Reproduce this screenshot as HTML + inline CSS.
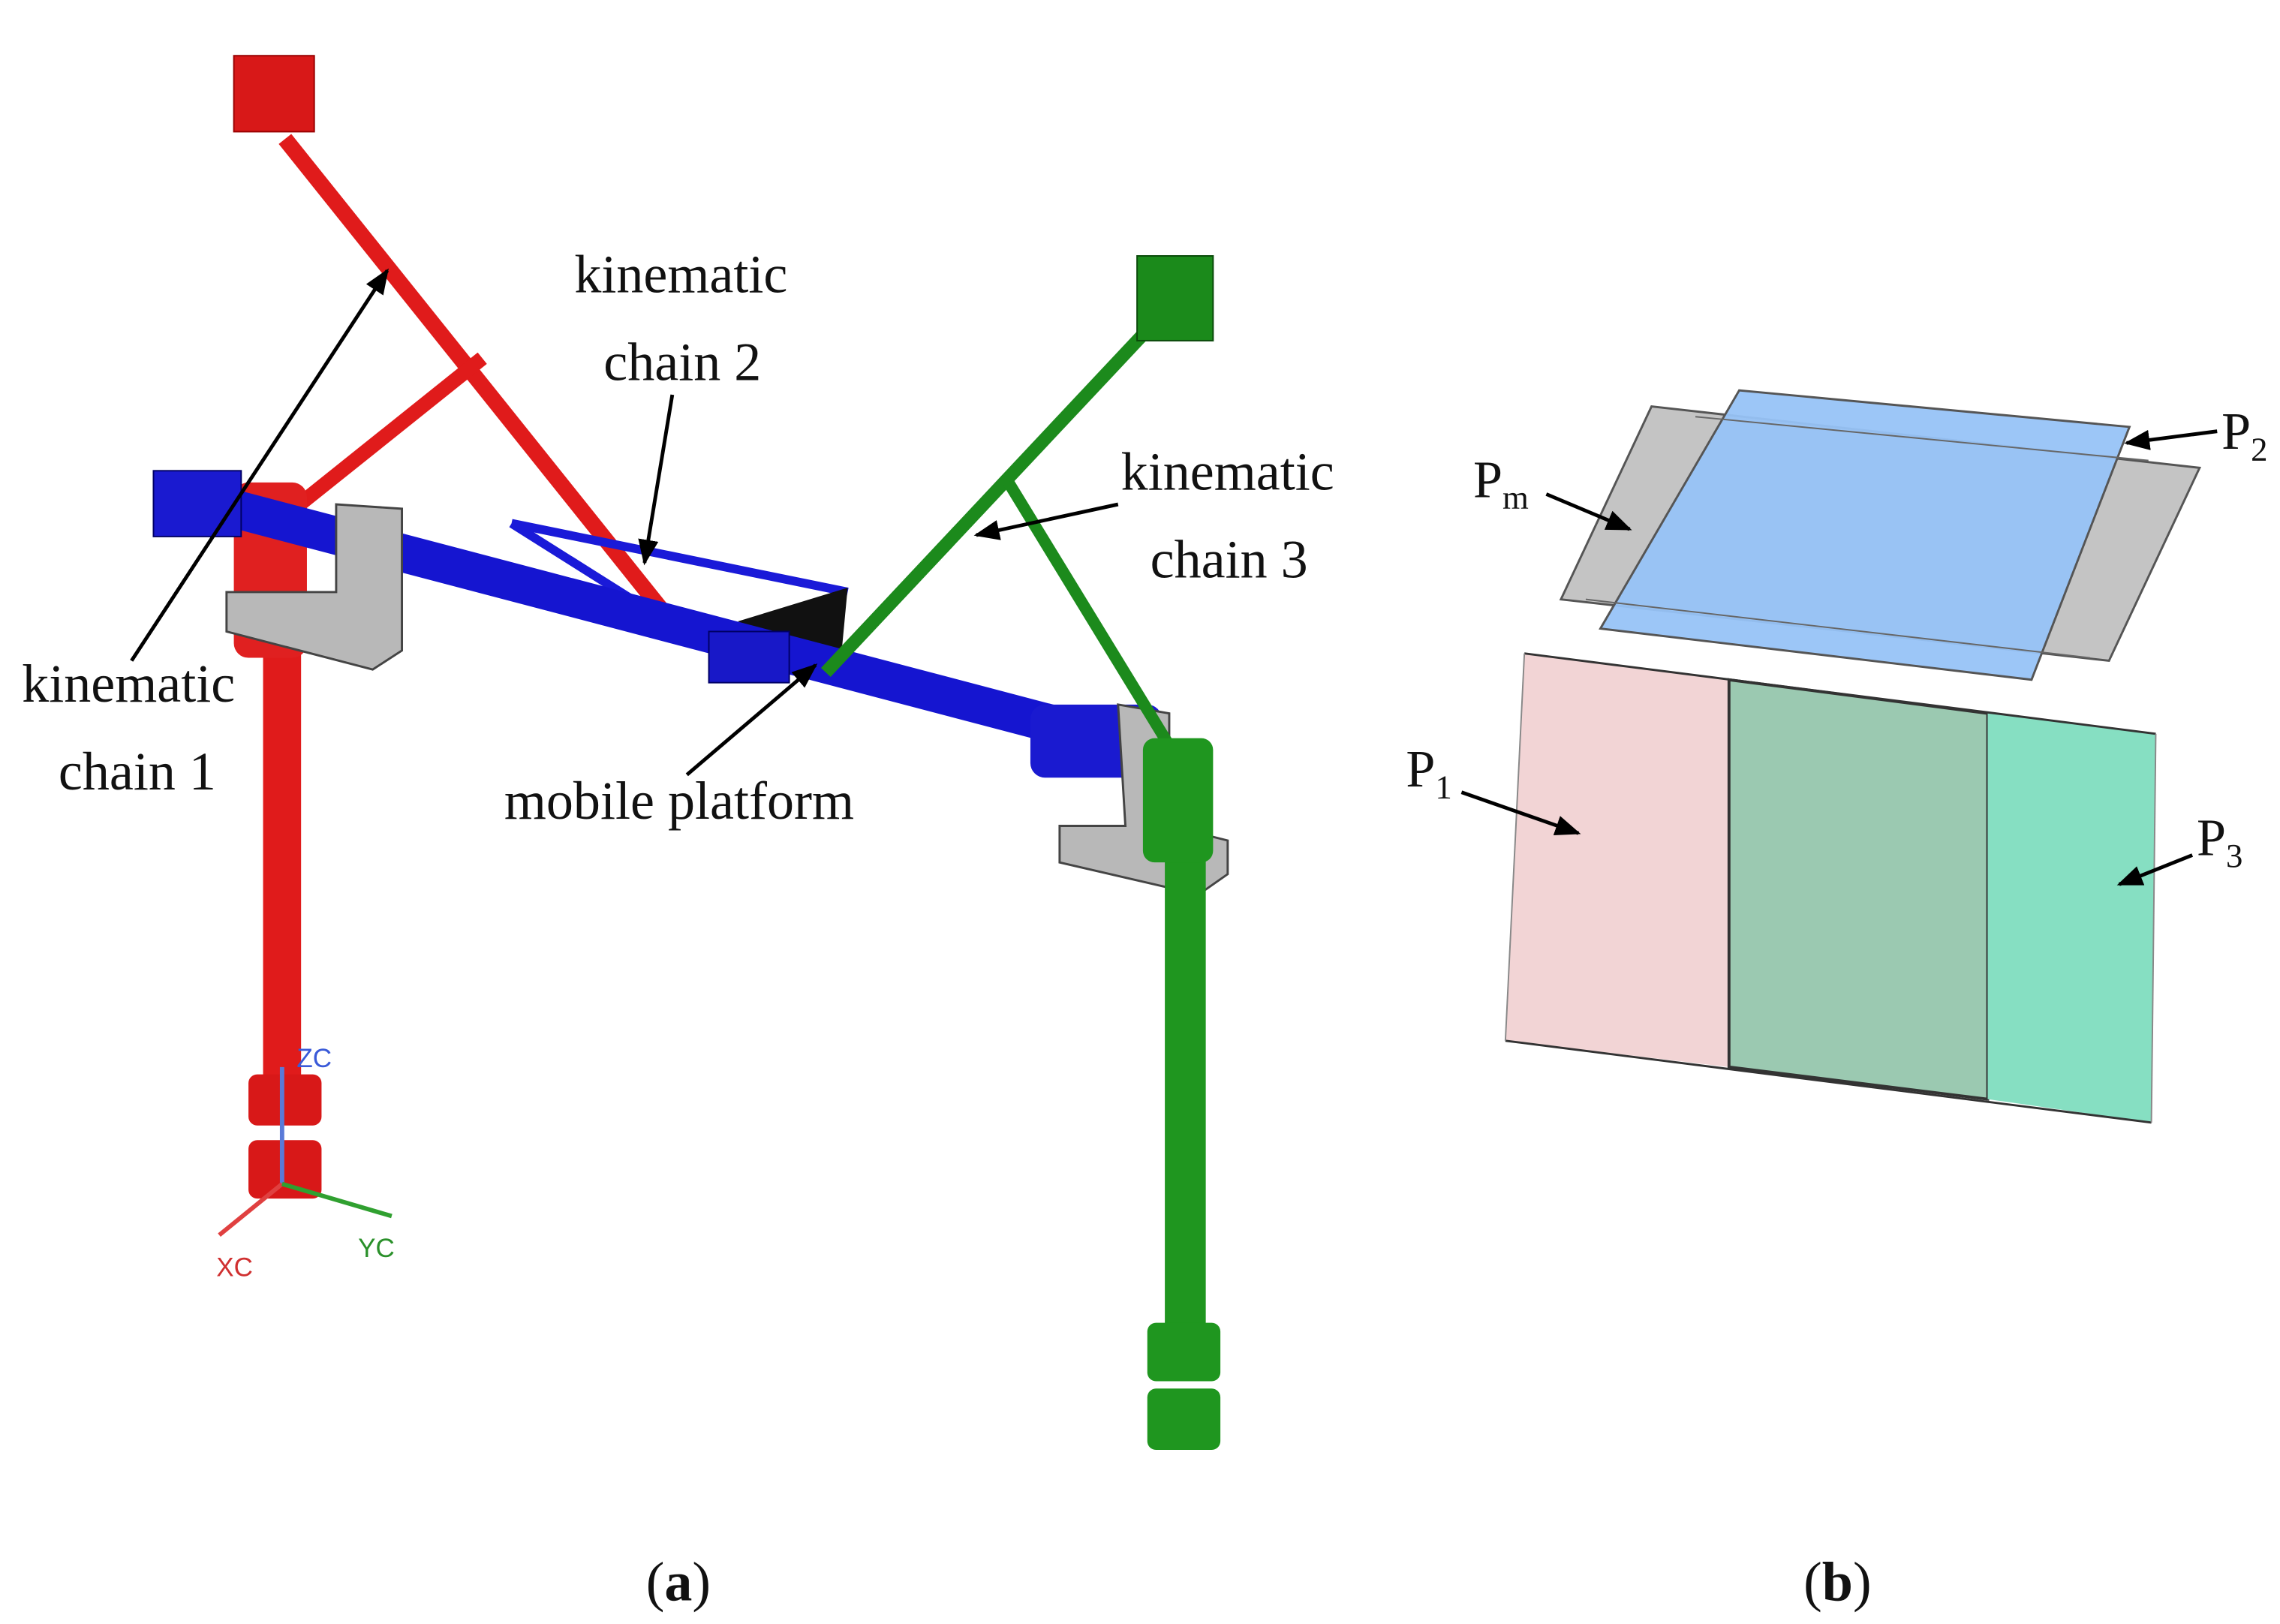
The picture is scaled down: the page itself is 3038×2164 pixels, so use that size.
<!DOCTYPE html>
<html><head><meta charset="utf-8"><style>
html,body{margin:0;padding:0;background:#fff;}
svg{display:block;}
text{font-family:"Liberation Serif",serif;fill:#111;}
</style></head><body>
<svg width="3038" height="2164" viewBox="0 0 1560 1111" xmlns="http://www.w3.org/2000/svg">
<defs>
<marker id="ar" viewBox="0 0 10 10" refX="9" refY="5" markerWidth="7" markerHeight="7" orient="auto"><path d="M0,1 L10,5 L0,9 z" fill="#000"/></marker>
</defs>
<rect width="1560" height="1111" fill="#fff"/>
<!-- (b) planes -->
<polygon points="1130,278 1505,320 1443,452 1068,410" fill="#c4c4c4" stroke="#555" stroke-width="1.5"/>
<polygon points="1190,267 1457,292 1390,465 1095,430" fill="#97c3f7" fill-opacity="0.95" stroke="#555" stroke-width="1.5"/>
<line x1="1160" y1="285" x2="1470" y2="315" stroke="#666" stroke-width="1"/>
<line x1="1085" y1="410" x2="1430" y2="450" stroke="#666" stroke-width="1"/>
<polygon points="1043,447 1183,465 1183,730 1030,712" fill="#f2d4d5"/>
<polygon points="1183,465 1360,488 1360,752 1183,730" fill="#9bc9b1" stroke="#333" stroke-width="2"/>
<polygon points="1360,488 1475,502 1472,768 1360,752" fill="#86dfc2"/>
<line x1="1043" y1="447" x2="1475" y2="502" stroke="#333" stroke-width="1.5"/>
<line x1="1030" y1="712" x2="1472" y2="768" stroke="#333" stroke-width="1.5"/>
<line x1="1043" y1="447" x2="1030" y2="712" stroke="#888" stroke-width="1"/>
<line x1="1475" y1="502" x2="1472" y2="768" stroke="#888" stroke-width="1"/>
<text x="1520" y="307" font-size="36">P<tspan font-size="23" dy="8">2</tspan></text>
<line x1="1517" y1="295" x2="1455" y2="303" stroke="#000" stroke-width="2.5" marker-end="url(#ar)"/>
<text x="1008" y="340" font-size="36">P<tspan font-size="23" dy="8">m</tspan></text>
<line x1="1058" y1="338" x2="1115" y2="362" stroke="#000" stroke-width="2.5" marker-end="url(#ar)"/>
<text x="962" y="538" font-size="36">P<tspan font-size="23" dy="8">1</tspan></text>
<line x1="1000" y1="542" x2="1080" y2="570" stroke="#000" stroke-width="2.5" marker-end="url(#ar)"/>
<text x="1503" y="585" font-size="36">P<tspan font-size="23" dy="8">3</tspan></text>
<line x1="1500" y1="585" x2="1450" y2="605" stroke="#000" stroke-width="2.5" marker-end="url(#ar)"/>
<!-- red -->
<line x1="195" y1="95" x2="455" y2="420" stroke="#e01b1b" stroke-width="11"/>
<line x1="330" y1="245" x2="205" y2="345" stroke="#e01b1b" stroke-width="10"/>
<rect x="160" y="38" width="55" height="52" fill="#d81818" stroke="#900" stroke-width="1"/>
<rect x="180" y="440" width="26" height="310" fill="#e01b1b"/>
<rect x="160" y="330" width="50" height="120" rx="10" fill="#e02020"/>
<rect x="170" y="735" width="50" height="35" rx="6" fill="#d81818"/>
<rect x="170" y="780" width="50" height="40" rx="6" fill="#d81818"/>
<!-- blue -->
<line x1="350" y1="358" x2="580" y2="405" stroke="#1a1ad8" stroke-width="6"/>
<line x1="350" y1="358" x2="480" y2="440" stroke="#1a1ad8" stroke-width="6"/>
<polygon points="505,425 580,402 575,455 530,450" fill="#111"/>
<line x1="160" y1="348" x2="795" y2="515" stroke="#1515d0" stroke-width="26"/>
<rect x="105" y="322" width="60" height="45" fill="#1a1ad0" stroke="#000066"/>
<rect x="485" y="432" width="55" height="35" fill="#1818c8" stroke="#000066"/>
<rect x="705" y="482" width="90" height="50" rx="10" fill="#1a1ad0"/>
<!-- gray brackets -->
<polygon points="155,405 230,405 230,345 275,348 275,445 255,458 155,432" fill="#b8b8b8" stroke="#444" stroke-width="1.5"/>
<polygon points="725,565 770,565 765,482 800,488 800,565 840,575 840,598 820,612 725,590" fill="#b8b8b8" stroke="#444" stroke-width="1.5"/>
<!-- green -->
<line x1="795" y1="215" x2="565" y2="460" stroke="#1c8a1c" stroke-width="9"/>
<line x1="690" y1="330" x2="800" y2="510" stroke="#1c8a1c" stroke-width="8"/>
<rect x="778" y="175" width="52" height="58" fill="#1b8a1b" stroke="#0a4a0a"/>
<rect x="797" y="580" width="28" height="330" fill="#1f961f"/>
<rect x="782" y="505" width="48" height="85" rx="8" fill="#1f961f"/>
<rect x="785" y="905" width="50" height="40" rx="6" fill="#1f961f"/>
<rect x="785" y="950" width="50" height="42" rx="6" fill="#1f961f"/>
<!-- axes -->
<line x1="193" y1="810" x2="193" y2="730" stroke="#5a7ad8" stroke-width="3"/>
<line x1="193" y1="810" x2="150" y2="845" stroke="#e04040" stroke-width="3"/>
<line x1="193" y1="810" x2="268" y2="832" stroke="#30a030" stroke-width="3"/>
<text x="203" y="730" font-size="18" style="font-family:'Liberation Sans',sans-serif;fill:#3a5ad8">ZC</text>
<text x="148" y="873" font-size="18" style="font-family:'Liberation Sans',sans-serif;fill:#d03030">XC</text>
<text x="245" y="860" font-size="18" style="font-family:'Liberation Sans',sans-serif;fill:#2a902a">YC</text>
<!-- labels -->
<text x="393" y="200" font-size="37">kinematic</text>
<text x="413" y="260" font-size="37">chain 2</text>
<line x1="460" y1="270" x2="441" y2="385" stroke="#000" stroke-width="2.5" marker-end="url(#ar)"/>
<text x="15" y="480" font-size="37">kinematic</text>
<text x="40" y="540" font-size="37">chain 1</text>
<line x1="90" y1="452" x2="265" y2="185" stroke="#000" stroke-width="2.5" marker-end="url(#ar)"/>
<text x="767" y="335" font-size="37">kinematic</text>
<text x="787" y="395" font-size="37">chain 3</text>
<line x1="765" y1="345" x2="668" y2="366" stroke="#000" stroke-width="2.5" marker-end="url(#ar)"/>
<text x="345" y="560" font-size="37">mobile platform</text>
<line x1="470" y1="530" x2="558" y2="455" stroke="#000" stroke-width="2.5" marker-end="url(#ar)"/>
<!-- captions -->
<text x="442" y="1095" font-size="38">(<tspan font-weight="bold">a</tspan>)</text>
<text x="1234" y="1095" font-size="38">(<tspan font-weight="bold">b</tspan>)</text>
</svg>
</body></html>
